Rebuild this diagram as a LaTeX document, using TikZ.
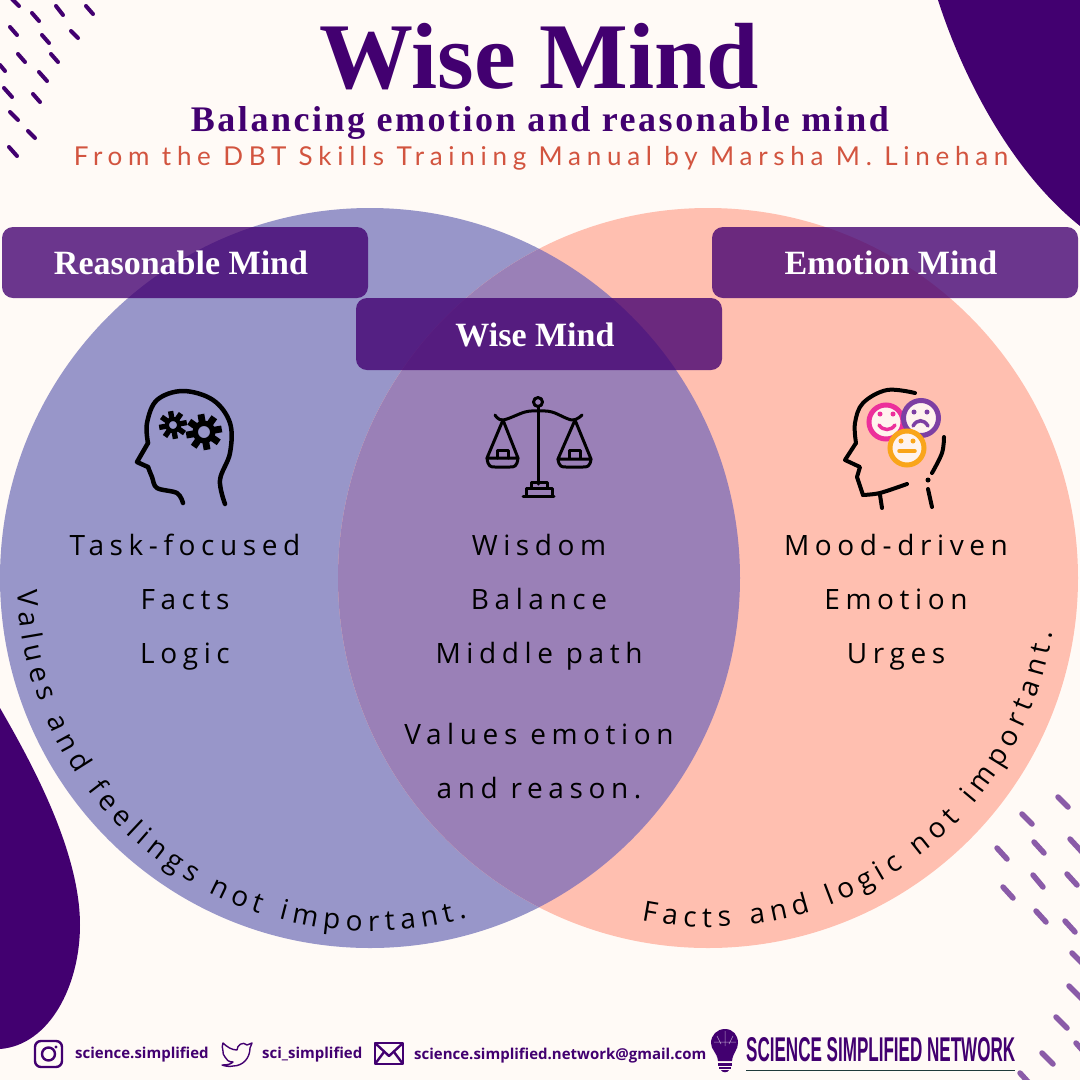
\documentclass[tikz,border=0pt]{standalone}
\usepackage{fontspec}
\usepackage{graphicx}
\usetikzlibrary{decorations.text}
\setmainfont{Liberation Serif}
\newfontfamily\titlefont{Liberation Serif}[BoldFont=Liberation Serif Bold]
\newfontfamily\subfont{Liberation Serif}[LetterSpace=7]
\newfontfamily\srcfont{Lato}[LetterSpace=22]
\newfontfamily\bodyfont{Open Sans}[LetterSpace=20]
\newfontfamily\curvefont{Open Sans}
\newfontfamily\footfont{Open Sans}
\newcommand\fs[1]{\fontsize{#1}{#1}\selectfont}
\definecolor{bgc}{HTML}{FFFAF6}
\definecolor{deep}{HTML}{420070}
\definecolor{leftc}{HTML}{9896C9}
\definecolor{rightc}{HTML}{FFBFB0}
\definecolor{midc}{HTML}{9A80B7}
\definecolor{dashc}{HTML}{8A5BA8}
\definecolor{srcc}{HTML}{D2543F}
\definecolor{pinkc}{HTML}{EC2F9B}
\definecolor{purpc}{HTML}{7D3FA3}
\definecolor{orngc}{HTML}{F9A51A}
\definecolor{facec}{HTML}{FFF3EE}
\definecolor{linec}{HTML}{1F3B3B}
\tikzset{
  dotdash/.style={line width=4pt,line cap=round,draw=deep},
  dashb/.style={line width=5.5pt,line cap=round,draw=dashc},
  band/.style={fill=deep,fill opacity=.78,rounded corners=11pt,draw=none},
  bandtxt/.style={text=white,font=\titlefont\bfseries\fs{34},inner sep=0pt},
  bodytxt/.style={text=black,font=\bodyfont\fs{28},inner sep=0pt,anchor=base},
  foot/.style={text=deep,font=\footfont\bfseries\fs{15},inner sep=0pt,anchor=base west},
  ink/.style={draw=black,line width=4.5pt,line cap=round,line join=round},
  ink2/.style={draw=black,line width=3pt,line cap=round,line join=round},
  inke/.style={draw=black,line width=4pt,line cap=round,line join=round},
  social/.style={draw=deep,line width=2.4pt,line join=round},
  curved/.style={decoration={text along path,text align=fit to path,text={#1}},decorate}
}
\newcommand\gear[4]{% x y outer inner
  \foreach \a in {0,45,...,315}{
    \draw[black,line width=#3*.38pt,line cap=butt] ([shift={(#1,#2)}]\a+10:#4*1.1pt) -- ([shift={(#1,#2)}]\a+10:#3*1pt);}
  \draw[black,line width=#3*.30pt] (#1,#2) circle (#4*1.1pt);
}
\begin{document}
\begin{tikzpicture}[x=1pt,y=-1pt]
\useasboundingbox (0,0) rectangle (1080,1080);
\fill[bgc] (0,0) rectangle (1080,1080);
% blobs
\fill[deep] (938,0) .. controls (962,75) and (1010,170) .. (1080,226) -- (1080,0) -- cycle;
\fill[deep] (0,708) .. controls (30,760) and (80,850) .. (80,925) .. controls (80,985) and (50,1045) .. (0,1049) -- cycle;
% dashes
\foreach \a/\b/\c/\d in {12/-1/19/6,32/13/39/21,56/6/63/15,86/6/93/14,10/27/17/35,42/35/49/43,71/31/78/38,18/54/25/62,51/54/58/62,0/65/5/71,39/72/47/81,4/88/12/97,33/94/40/102,10/112/18/120,28/131/35/138,9/147/17/156}
  \draw[dotdash] (\a,\b) -- (\c,\d);
\foreach \a/\b/\c/\d in {1058/797/1068/807,1022/814/1032/824,1070/839/1082/852,1034/842/1044/853,997/848/1007/859,1033/875/1043/887,1067/874/1077/885,1003/887/1013/898,1036/911/1046/922,1065/921/1075/932,1072/953/1082/963,1069/986/1082/999,1056/1017/1067/1028,1076/1043/1084/1052,1042/1053/1053/1064,1020/1073/1030/1084}
  \draw[dashb] (\a,\b) -- (\c,\d);
% titles
\node[inner sep=0pt,text=deep,font=\titlefont\bfseries\fs{94}] (title) at (539,57) {Wise Mind};
\node[inner sep=0pt,text=deep,font=\subfont\bfseries\fs{36}] (subtitle) at (540,123) {Balancing emotion and reasonable mind};
\node[inner sep=0pt,text=srcc,font=\srcfont\fs{26}] (source) at (541,158) {From the DBT Skills Training Manual by Marsha M. Linehan};
% circles
\fill[leftc] (370,578) circle (370pt);
\fill[rightc] (708,578) circle (370pt);
\begin{scope}
  \clip (370,578) circle (370pt);
  \fill[midc] (708,578) circle (370pt);
\end{scope}
% bands
\fill[band] (2,227) rectangle (368,298);
\fill[band] (712,227) rectangle (1078,298);
\fill[band] (356,298) rectangle (722,370);
\node[bandtxt] (lblreason) at (181,263) {Reasonable Mind};
\node[bandtxt] (lblemotion) at (891,263) {Emotion Mind};
\node[bandtxt] (lblwise) at (535,335) {Wise Mind};
% reasonable icon
\draw[ink] plot[smooth,tension=.55] coordinates {(183,503) (177,493) (157,488) (152,477) (148,467)};
\draw[ink] (148,467) -- (137,462) -- (148,443);
\draw[ink] plot[smooth,tension=.6] coordinates {(148,443) (147,423) (157,400) (183,391) (213,400) (230,423) (230,453) (220,480) (225,504)};
\gear{173}{425}{14}{5.5}
\gear{204}{432}{18}{8}
% scales icon
\draw[ink2] (538,402) circle (4.5pt);
\draw[ink2] (538,407) -- (538,484);
\draw[ink2] plot[smooth,tension=.6] coordinates {(495,415) (503,420) (525,412) (538,411) (552,412) (572,420) (582,415)};
\draw[ink2] (503,420) -- (487,458) -- (518,458) -- cycle;
\draw[ink2] (575,420) -- (558,459) -- (591,459) -- cycle;
\draw[ink2] (487,458) .. controls (488,467) and (491,467) .. (495,467) -- (510,467) .. controls (514,467) and (517,467) .. (518,458);
\draw[ink2] (558,459) .. controls (559,467) and (562,467) .. (566,467) -- (583,467) .. controls (587,467) and (590,467) .. (591,459);
\draw[ink2] (497,458) -- (497,450) -- (508,450) -- (508,458);
\draw[ink2] (569,458) -- (569,450) -- (580,450) -- (580,458);
\draw[ink2] (531,488) -- (531,482) -- (547,482) -- (547,488);
\draw[ink2] (526,496) -- (526,488) -- (552,488) -- (552,496);
\draw[ink2] (523,496) -- (554,496);
% emotion icon
\draw[inke] plot[smooth,tension=.6] coordinates {(915,393) (887,390) (863,403) (855,423) (856,443)};
\draw[inke] (856,443) -- (845,460) -- (860,467) -- (857,477) -- (863,495);
\draw[inke] plot[smooth,tension=.5] coordinates {(863,495) (880,493) (907,484)};
\draw[inke] (880,495) -- (882,508);
\draw[inke] plot[smooth,tension=.6] coordinates {(944,437) (942,453) (932,473)};
\fill[black] (928,480) circle (2.5pt);
\draw[inke] (928,489) -- (932,507);
\draw[pinkc,line width=5pt,fill=facec] (886,422) circle (17pt);
\fill[pinkc] (880,414) circle (2.5pt) (893,414) circle (2.5pt);
\draw[pinkc,line width=3.5pt,line cap=round] (879,425) .. controls (883,431) and (891,431) .. (895,425);
\draw[purpc,line width=5pt,fill=facec] (921,418) circle (17.5pt);
\fill[purpc] (914,412) circle (2.5pt) (927,412) circle (2.5pt);
\draw[purpc,line width=3.5pt,line cap=round] (913,426) .. controls (917,419) and (924,419) .. (928,426);
\draw[orngc,line width=5pt,fill=facec] (907,448) circle (17pt);
\fill[orngc] (901,441) circle (2.5pt) (913,441) circle (2.5pt);
\draw[orngc,line width=3.5pt,line cap=round] (899,451) -- (915,451);
% body text
\node[bodytxt] (t1) at (185,555) {Task-focused};
\node[bodytxt] (t2) at (185,609) {Facts};
\node[bodytxt] (t3) at (185,663) {Logic};
\node[bodytxt] (m1) at (539,555) {Wisdom};
\node[bodytxt] (m2) at (539,609) {Balance};
\node[bodytxt] (m3) at (539,663) {Middle path};
\node[bodytxt] (m4) at (539,744) {Values emotion};
\node[bodytxt] (m5) at (539,798) {and reason.};
\node[bodytxt] (r1) at (896,555) {Mood-driven};
\node[bodytxt] (r2) at (896,609) {Emotion};
\node[bodytxt] (r3) at (896,663) {Urges};
% curved text
\begin{scope}[y=1pt]
\path[curved={|\curvefont\fs{28}|Values and feelings not important.}]
  ([shift={(370,-578)}]182:353pt) arc[start angle=182,end angle=286,radius=353pt];
\path[curved={|\curvefont\fs{28}|Facts and logic not important.}]
  ([shift={(708,-578)}]259:349pt) arc[start angle=259,end angle=351,radius=349pt];
\end{scope}
% footer icons
\draw[social,rounded corners=6pt] (35,1041) rectangle (62,1067);
\draw[social] (48.5,1054) circle (6.5pt);
\fill[deep] (56,1047) circle (1.6pt);
\draw[deep,line width=1.4pt,line join=round] (222,1065) .. controls (228,1065) and (231,1064) .. (233,1062) .. controls (229,1062) and (226,1060) .. (225,1057) .. controls (223,1055) and (223,1053) .. (223,1051) .. controls (222,1048) and (222,1045) .. (223,1043) .. controls (227,1047) and (232,1050) .. (237,1050) .. controls (237,1045) and (243,1041) .. (247,1045) -- (252,1043) -- (250,1048) .. controls (250,1058) and (243,1066) .. (233,1066) .. controls (229,1067) and (225,1066) .. (222,1065) -- cycle;
\draw[social] (375,1043) rectangle (403,1064);
\draw[social] (375,1043) -- (389,1056) -- (403,1043);
\draw[social] (375,1064) -- (384,1052) (403,1064) -- (394,1052);
\node[foot] (insta) at (75,1058) {science.simplified};
\node[foot] (twit) at (262,1058) {sci\_simplified};
\node[foot] (mail) at (414,1059) {science.simplified.network@gmail.com};
% logo
\fill[deep] (725,1029) .. controls (733,1029) and (738,1035) .. (738,1043) .. controls (738,1050) and (733,1052) .. (732,1061) -- (718,1061) .. controls (717,1052) and (711,1050) .. (711,1043) .. controls (711,1035) and (717,1029) .. (725,1029) -- cycle;
\draw[white,opacity=.6,line width=.5pt] (725,1031) -- (725,1046) (717,1036) -- (721,1044) (733,1036) -- (729,1044) (714,1042) -- (736,1042);
\fill[deep] (718,1063) rectangle (732,1065.5);
\fill[deep] (719,1067) rectangle (731,1069);
\fill[deep] (721,1070) .. controls (722,1073) and (728,1073) .. (729,1070) -- cycle;
\node[inner sep=0pt,anchor=base west,text=deep] (logo) at (746,1061) {\resizebox{269pt}{24pt}{\fontspec{Liberation Sans Bold}SCIENCE SIMPLIFIED NETWORK}};
\draw[linec,line width=1.6pt] (746,1070.5) -- (1015,1070.5);
\end{tikzpicture}
\end{document}
